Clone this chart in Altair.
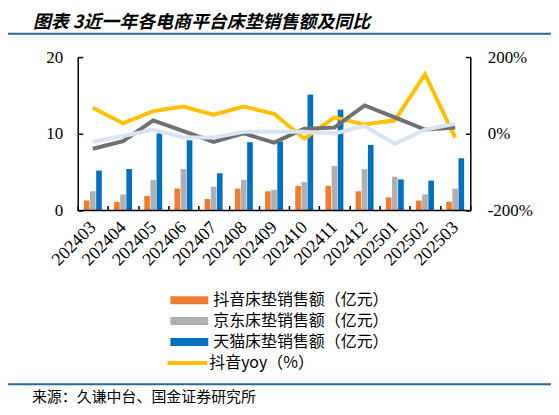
import altair as alt
import pandas as pd

# ===== Data =====
months = ["202403", "202404", "202405", "202406", "202407", "202408", "202409",
          "202410", "202411", "202412", "202501", "202502", "202503"]
douyin_sales = [1.3, 1.1, 1.9, 2.85, 1.5, 2.85, 2.5, 3.2, 3.2, 2.5, 1.7, 1.3, 1.15]
jd_sales = [2.5, 2.1, 4.0, 5.4, 3.1, 4.0, 2.7, 3.7, 5.8, 5.4, 4.4, 2.1, 2.85]
tmall_sales = [5.2, 5.4, 10.05, 9.15, 4.85, 8.9, 9.0, 15.1, 13.15, 8.55, 4.05, 3.9, 6.8]
douyin_yoy = [68, 27, 59, 71, 50, 71, 52, -13, 43, 24, 35, 155, -10]
jd_yoy = [-39, -19, 35, 7, -21, 1, -23, 13, 16, 74, 43, 11, 16]
tmall_yoy = [-21, -6, 11, -10, -10, 5, 6, 5, 1, 20, -26, 11, 26]

bar_series = ["抖音床垫销售额（亿元）", "京东床垫销售额（亿元）", "天猫床垫销售额（亿元）"]
line_series = ["抖音yoy（%）", "京东yoy", "天猫yoy"]
title_text = "图表 3近一年各电商平台床垫销售额及同比"
source_text = "来源：久谦中台、国金证券研究所"

# ===== Colors / fonts =====
BAR_COLORS = ["#ED7D31", "#B0B0B0", "#0070C0"]
LINE_COLORS = ["#FFC000", "#707070", "#DAE3F3"]
RULE_COLOR = "#2A6A93"
NUM_FONT = "Liberation Serif"
CJK_FONT = "Noto Sans CJK SC"

bars_df = pd.DataFrame({
    "month": months * 3,
    "series": [s for s in bar_series for _ in months],
    "value": douyin_sales + jd_sales + tmall_sales,
})
lines_df = pd.DataFrame({
    "month": months * 3,
    "series": [s for s in line_series for _ in months],
    "value": douyin_yoy + jd_yoy + tmall_yoy,
})
one = pd.DataFrame({"t": [source_text], "title": [title_text]})

x_enc = alt.X(
    "month:N", sort=months, title=None,
    scale=alt.Scale(type="band", paddingInner=0, paddingOuter=0),
    axis=alt.Axis(labelAngle=-45, labelAlign="right", labelBaseline="middle",
                  labelFont=NUM_FONT, labelFontSize=18, labelColor="black",
                  domain=False, ticks=True, tickSize=5, tickWidth=1.5,
                  tickColor="black", tickBand="extent", offset=-5,
                  labelPadding=14),
)

bars = alt.Chart(bars_df).mark_bar().encode(
    x=x_enc,
    xOffset=alt.XOffset("series:N", sort=bar_series,
                        scale=alt.Scale(paddingInner=0.08, paddingOuter=1)),
    y=alt.Y("value:Q", title=None, scale=alt.Scale(domain=[0, 20]),
            axis=alt.Axis(orient="left", values=[0, 10, 20], grid=False,
                          domain=True, domainColor="black", domainWidth=1.5,
                          ticks=False, tickSize=0, labelPadding=15,
                          labelFont=NUM_FONT, labelFontSize=17, labelColor="black")),
    color=alt.Color("series:N", sort=bar_series,
                    scale=alt.Scale(domain=bar_series, range=BAR_COLORS),
                    legend=alt.Legend(title=None, orient="none", legendX=104, legendY=236,
                                      direction="vertical", padding=0,
                                      symbolType="M-9.5,-2H9.5V2H-9.5Z", symbolSize=16,
                                      symbolStrokeWidth=0, labelOffset=16, rowPadding=5,
                                      labelFont=CJK_FONT, labelFontSize=16,
                                      labelColor="black", labelLimit=400)),
)

lines = alt.Chart(lines_df).mark_line(strokeWidth=4).encode(
    x=x_enc,
    y=alt.Y("value:Q", title=None, scale=alt.Scale(domain=[-200, 200]),
            axis=alt.Axis(orient="right", values=[-200, 0, 200], grid=False,
                          labelExpr="datum.value + '%'",
                          domain=True, domainColor="black", domainWidth=1.5,
                          ticks=False, tickSize=0, labelPadding=17,
                          labelFont=NUM_FONT, labelFontSize=17, labelColor="black")),
    color=alt.Color("series:N", sort=line_series,
                    scale=alt.Scale(domain=line_series, range=LINE_COLORS),
                    legend=alt.Legend(title=None, orient="none", legendX=102, legendY=299,
                                      values=[line_series[0]], padding=0,
                                      symbolType="M-10,0H10", symbolSize=16,
                                      symbolStrokeWidth=4, labelOffset=14,
                                      labelFont=CJK_FONT, labelFontSize=16,
                                      labelColor="black", labelLimit=400)),
)

# bottom frame line plus inward ticks of the left axis
base_rule = alt.Chart(one).mark_rule(color="black", strokeWidth=1.5).encode(
    y=alt.YDatum(0, scale=alt.Scale(domain=[0, 20]),
                 axis=alt.Axis(orient="left", values=[0, 10, 20], offset=-5,
                               domain=False, labels=False, grid=False, title=None,
                               ticks=True, tickSize=5, tickWidth=1.5, tickColor="black")),
)
# inward ticks of the right axis
right_ticks = alt.Chart(one).mark_rule(opacity=0).encode(
    y=alt.YDatum(-200, scale=alt.Scale(domain=[-200, 200]),
                 axis=alt.Axis(orient="right", values=[-200, 0, 200], offset=-5,
                               domain=False, labels=False, grid=False, title=None,
                               ticks=True, tickSize=5, tickWidth=1.5, tickColor="black")),
)

# heading, rules and source line
title = alt.Chart(one).mark_text(align="left", baseline="middle", font=CJK_FONT,
                                 fontSize=18, fontWeight="bold", fontStyle="italic",
                                 color="black").encode(
    text="title:N", x=alt.value(-45), y=alt.value(-34))
title_rule = alt.Chart(one).mark_rule(color=RULE_COLOR, strokeWidth=2).encode(
    x=alt.value(-70), x2=alt.value(475), y=alt.value(-23.5))
source_rule = alt.Chart(one).mark_rule(color=RULE_COLOR, strokeWidth=2).encode(
    x=alt.value(-70), x2=alt.value(475), y=alt.value(328.5))
source = alt.Chart(one).mark_text(align="left", baseline="middle", font=CJK_FONT,
                                  fontSize=15, color="black").encode(
    text="t:N", x=alt.value(-46), y=alt.value(341.5))

chart = (
    alt.layer(bars, lines, base_rule, right_ticks, title, title_rule, source_rule, source)
    .resolve_scale(y="independent", color="independent")
    .properties(
        width=394, height=154,
        autosize=alt.AutoSizeParams(type="none"),
        padding={"left": 70, "top": 48.5, "right": 81, "bottom": 196.5},
    )
    .configure_view(stroke=None)
)

chart.save("out.html", embed_options={"renderer": "svg", "actions": False})
